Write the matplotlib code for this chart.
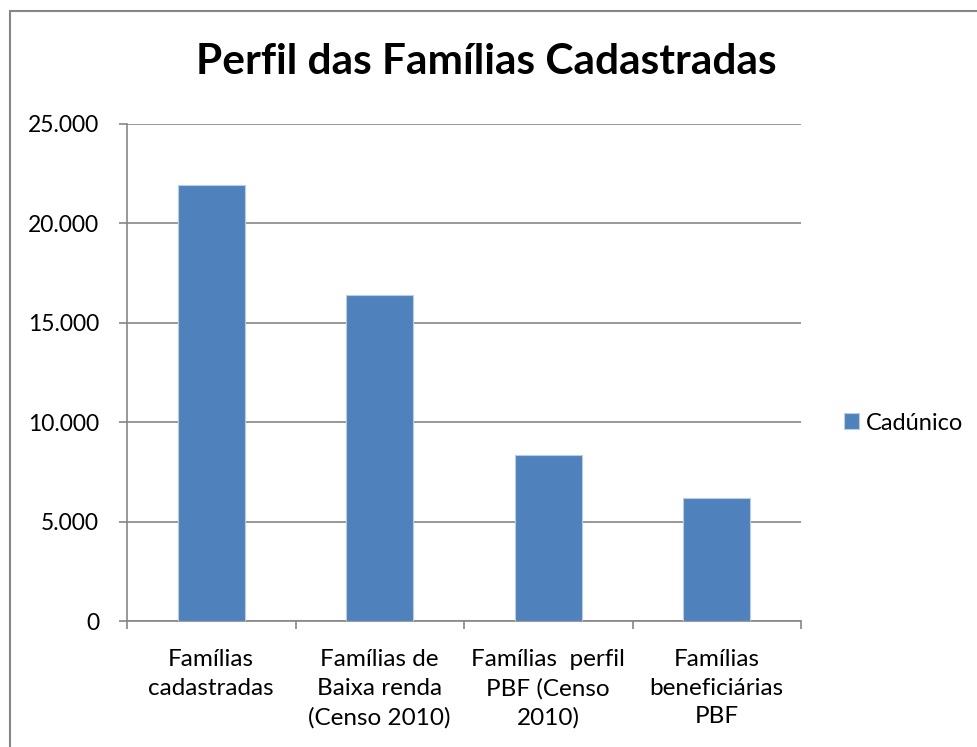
import matplotlib
matplotlib.use("Agg")
import matplotlib.pyplot as plt
from matplotlib.patches import Rectangle
from matplotlib.ticker import FuncFormatter

plt.rcParams['font.family'] = ['Lato', 'DejaVu Sans']

# dados do gráfico
categorias = ['Famílias\ncadastradas', 'Famílias de\nBaixa renda\n(Censo 2010)',
              'Famílias  perfil\nPBF (Censo\n2010)', 'Famílias\nbeneficiárias\nPBF']
valores = [21900, 16380, 8340, 6180]
serie = 'Cadúnico'
yticks = [0, 5000, 10000, 15000, 20000, 25000]

cor_barra = '#4F81BD'
cinza = '#868686'

fig = plt.figure(figsize=(9.77, 7.47), dpi=100)
ax = fig.add_axes([127 / 977, 1 - 621.3 / 747, 674 / 977, 497.6 / 747])

x = list(range(len(categorias)))
ax.bar(x, valores, width=0.4, color=cor_barra, edgecolor='#B9CDE5', linewidth=0.8,
       label=serie, zorder=3)

ax.set_xlim(-0.5, len(categorias) - 0.5)
ax.set_ylim(0, 25000)
ax.set_yticks(yticks)
ax.yaxis.set_major_formatter(FuncFormatter(lambda v, p: f'{int(v):,}'.replace(',', '.')))
ax.grid(axis='y', color=cinza, linewidth=1.2, zorder=0)

# ticks do eixo x nas divisões entre categorias
ax.set_xticks([i - 0.5 for i in range(len(categorias) + 1)])
ax.set_xticklabels([])
ax.set_xticks(x, minor=True)
ax.set_xticklabels(categorias, minor=True, fontsize=17.5, linespacing=1.45)
ax.tick_params(axis='x', which='minor', length=0, pad=20)
ax.tick_params(axis='x', which='major', length=6, color=cinza, width=1.2)
ax.tick_params(axis='y', length=6, color=cinza, width=1.2, labelsize=16.5, pad=14)

for s in ['top', 'right']:
    ax.spines[s].set_visible(False)
for s in ['left', 'bottom']:
    ax.spines[s].set_color(cinza)
    ax.spines[s].set_linewidth(1.2)

fig.text(486 / 977, 1 - 62 / 747, 'Perfil das Famílias Cadastradas', ha='center', va='center',
         fontsize=30.5, fontweight='bold')

fig.legend(loc='center left', bbox_to_anchor=(832 / 977, 1 - 423 / 747), frameon=False,
           fontsize=17, handlelength=0.65, handleheight=0.65, handletextpad=0.3, borderpad=0)

# moldura do gráfico
fig.patches.append(Rectangle((10 / 977, -0.1), 1.2, 1 - 11 / 747 + 0.1, transform=fig.transFigure,
                             fill=False, edgecolor=cinza, linewidth=1.5))

fig.savefig('out.png', dpi=100)
